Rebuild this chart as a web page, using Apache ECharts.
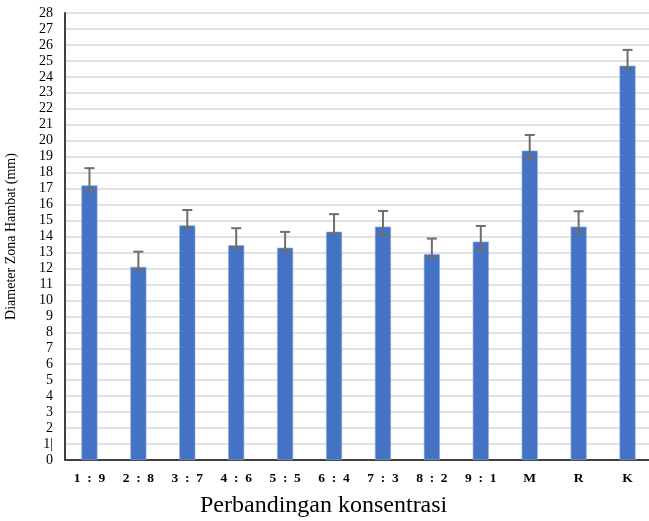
<!DOCTYPE html>
<html><head><meta charset="utf-8">
<script src="https://cdn.jsdelivr.net/npm/echarts@6/dist/echarts.min.js"></script>
<style>html,body{margin:0;padding:0;background:#fff}#c{width:649px;height:521px}</style>
</head><body><div id="c"></div>
<script>
const categories = ['1 : 9','2 : 8','3 : 7','4 : 6','5 : 5','6 : 4','7 : 3','8 : 2','9 : 1','M','R','K'];
const values = [17.2, 12.1, 14.7, 13.45, 13.3, 14.3, 14.62, 12.89, 13.68, 19.38, 14.62, 24.7];
const errUpper = [18.28, 13.05, 15.66, 14.52, 14.29, 15.4, 15.6, 13.87, 14.66, 20.36, 15.58, 25.69];
const errLower = [16.82, 11.95, 14.55, 13.3, 13.1, 14.18, 14.1, 12.74, 13.16, 18.86, 14.24, 24.5];
const yTickLabels = ['0','1|','2','3','4','5','6','7','8','9','10','11','12','13','14','15','16','17','18','19','20','21','22','23','24','25','26','27','28'];

const chart = echarts.init(document.getElementById('c'));
const serif = '"Liberation Serif", "DejaVu Serif", serif';
chart.setOption({
  animation: false,
  grid: {left: 65, right: -3, top: 13, bottom: 61, containLabel: false, outerBoundsMode: 'none'},
  xAxis: {
    type: 'category', data: categories,
    axisLine: {lineStyle: {color: '#404040', width: 2}},
    axisTick: {show: false},
    axisLabel: {fontFamily: serif, fontWeight: 'bold', fontSize: 13.5, color: '#000', margin: 12,
      formatter: v => v.replace(/ : /, '  :  ')}
  },
  yAxis: {
    type: 'value', min: 0, max: 28, interval: 1,
    name: 'Diameter Zona Hambat (mm)', nameLocation: 'middle', nameGap: 47,
    nameTextStyle: {fontFamily: serif, fontSize: 14, color: '#000'},
    axisLine: {show: true, lineStyle: {color: '#404040', width: 2}},
    axisTick: {show: false},
    splitLine: {lineStyle: {color: '#d9d9d9', width: 1.5}},
    axisLabel: {fontFamily: serif, fontSize: 14, color: '#000', margin: 12,
      formatter: v => yTickLabels[Math.round(v)] ?? String(v)}
  },
  graphic: [{
    type: 'text', left: 200, top: 494,
    style: {text: 'Perbandingan konsentrasi', font: '24px ' + serif, fill: '#000'}
  }],
  series: [{
    type: 'bar', data: values, barWidth: 16,
    itemStyle: {color: '#4472C4', borderColor: '#8eaadb', borderWidth: 0.6}
  }, {
    type: 'custom',
    data: categories.map((c, i) => [i, errLower[i], errUpper[i]]),
    renderItem: function (params, api) {
      const lo = api.coord([api.value(0), api.value(1)]);
      const hi = api.coord([api.value(0), api.value(2)]);
      const hw = 5;
      const st = {stroke: '#6d6d6d', lineWidth: 2};
      return {type: 'group', children: [
        {type: 'line', shape: {x1: hi[0], y1: hi[1], x2: lo[0], y2: lo[1]}, style: st},
        {type: 'line', shape: {x1: hi[0]-hw, y1: hi[1], x2: hi[0]+hw, y2: hi[1]}, style: st},
        {type: 'line', shape: {x1: lo[0]-hw, y1: lo[1], x2: lo[0]+hw, y2: lo[1]}, style: st}
      ]};
    },
    z: 10
  }]
});
</script></body></html>
